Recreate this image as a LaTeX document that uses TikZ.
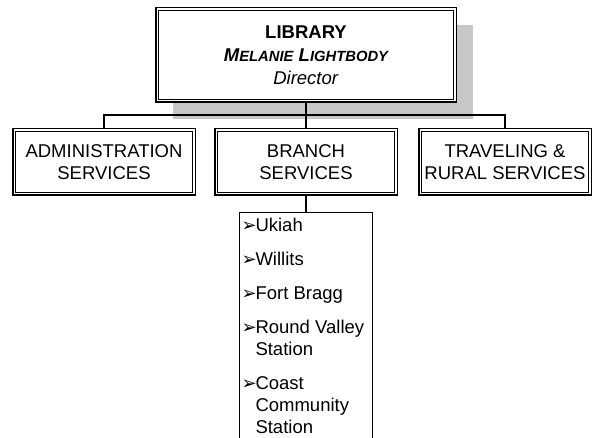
\documentclass[tikz,border=0pt]{standalone}
\usepackage{fontspec}
\setmainfont{Liberation Sans}
\newfontfamily\dingfont{DejaVu Sans}
\usetikzlibrary{positioning, shadows}
\newcommand\smallcap[1]{{\fontsize{14.8}{22}\selectfont #1}}
\newcommand\townitem[1]{\par\hangindent=14pt\hangafter=1\noindent
  \makebox[14pt][l]{\dingfont\fontsize{18}{22}\selectfont ➢}#1}
\tikzset{
  orgbox/.style={draw, line width=1.5pt, fill=white, align=center,
                 font=\fontsize{18.5}{22}\selectfont, inner sep=2pt,
                 minimum width=182.5pt, minimum height=66.5pt},
  headbox/.style={orgbox, minimum width=300.5pt, minimum height=94.5pt,
                  font=\fontsize{18.5}{23}\selectfont,
                  drop shadow={shadow xshift=17pt, shadow yshift=-17pt,
                               fill=black!22, opacity=1}},
  innerline/.style={line width=0.8pt},
  listbox/.style={draw, line width=0.9pt, inner xsep=2pt, inner ysep=6pt,
                  font=\fontsize{18.5}{22}\selectfont},
  link/.style={line width=1.1pt}
}
\begin{document}
\begin{tikzpicture}
\useasboundingbox (0,0) rectangle (592pt,-438pt);
\clip (0,0) rectangle (592pt,-438pt);

% Director
\node[headbox] (library) at (306pt,-55pt)
  {\textbf{LIBRARY}\\
   {\bfseries\itshape M\smallcap{ELANIE} L\smallcap{IGHTBODY}}\\
   \textit{Director}};

% Services row
\node[orgbox, below=25pt of library] (branch) {BRANCH\\SERVICES};
\node[orgbox, left=18pt of branch] (admin) {ADMINISTRATION\\SERVICES};
\node[orgbox, right=20pt of branch, minimum width=172.5pt] (travel) {TRAVELING \&\\RURAL SERVICES};

% inner frame of the double borders
\foreach \n in {library, admin, branch, travel}
  \draw[innerline] ([shift={(3.2pt,-3.2pt)}]\n.north west)
    rectangle ([shift={(-3.2pt,3.2pt)}]\n.south east);

% Branch list
\node[listbox, below=16pt of branch] (towns)
  {\parbox[t]{129pt}{\setlength\parskip{12pt}%
   \townitem{Ukiah}
   \townitem{Willits}
   \townitem{Fort Bragg}
   \townitem{Round Valley\\Station}
   \townitem{Coast\\Community\\Station}\par}};

% Connectors
\draw[link] (library.south) -- ++(0,-12pt) coordinate (bus);
\draw[link] (admin.north) |- (bus) -| (travel.north);
\draw[link] (bus) -- (branch.north);
\draw[link] (branch.south) -- (towns.north);

\end{tikzpicture}
\end{document}
